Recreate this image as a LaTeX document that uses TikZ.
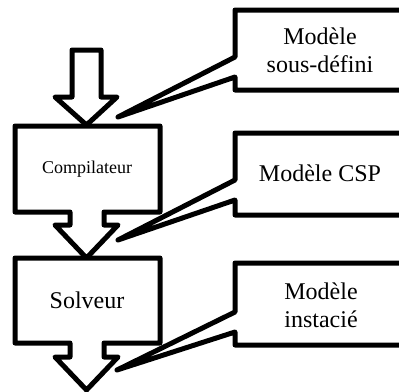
\documentclass[tikz,border=0pt]{standalone}
\usepackage{fontspec}
\setmainfont{Liberation Serif}
\begin{document}
\begin{tikzpicture}[x=1pt,y=-1pt,
  shapeline/.style={draw=black,line width=5pt,line join=round,fill=white},
  bigtext/.style={inner sep=0pt,align=center,font=\fontsize{24}{28}\selectfont},
  smalltext/.style={inner sep=0pt,align=center,font=\fontsize{18}{21}\selectfont}]
\path[use as bounding box,clip] (0,0) rectangle (399,391);
% input arrow
\draw[shapeline] (72,50) -- (101,50) -- (101,97) -- (117,97) -- (86.5,125) -- (55,97) -- (72,97) -- cycle;
% Compilateur block with arrow
\draw[shapeline] (15,126) -- (160,126) -- (160,212) -- (104,212) -- (104,225) -- (118,225) -- (86.5,258) -- (55,225) -- (70,225) -- (70,212) -- (15,212) -- cycle;
% Solveur block with arrow
\draw[shapeline] (15,258) -- (160,258) -- (160,343) -- (104,343) -- (104,357) -- (118,357) -- (86.5,390) -- (55,357) -- (70,357) -- (70,343) -- (15,343) -- cycle;
% callouts
\draw[shapeline] (410,10) -- (235,10) -- (235,57) -- (118,117) -- (235,77) -- (235,90) -- (410,90);
\draw[shapeline] (410,133) -- (235,133) -- (235,180) -- (118,240) -- (235,200) -- (235,215) -- (410,215);
\draw[shapeline] (410,263) -- (235,263) -- (235,312) -- (117,370) -- (235,332) -- (235,345) -- (410,345);
% texts
\node[smalltext] (comp) at (87,169) {Compilateur};
\node[bigtext] (solv) at (87,300) {Solveur};
\node[bigtext] (m1) at (320,50) {Modèle\\sous-défini};
\node[bigtext] (m2) at (320,173) {Modèle CSP};
\node[bigtext] (m3) at (321,305) {Modèle\\instacié};
\end{tikzpicture}
\end{document}
